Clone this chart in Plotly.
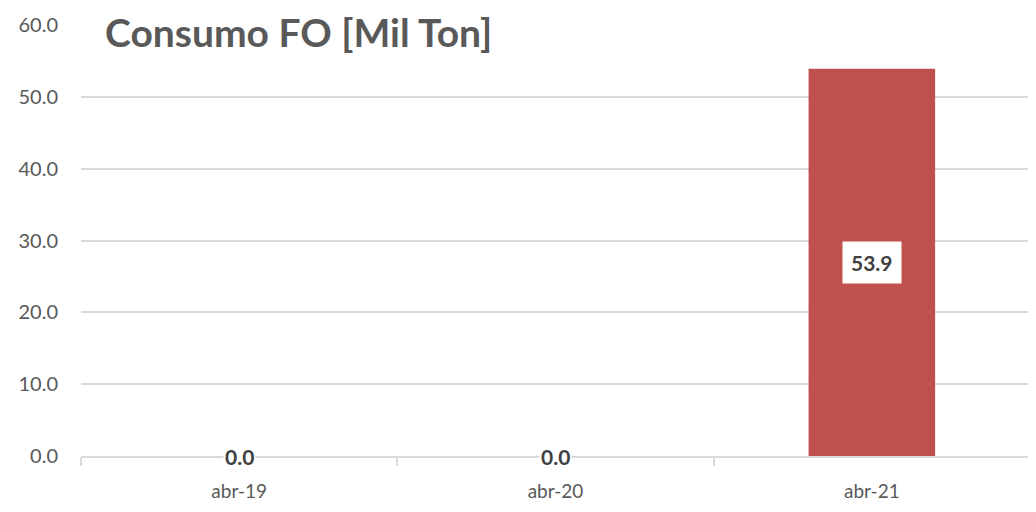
import plotly.graph_objects as go

categories = ["abr-19", "abr-20", "abr-21"]
values = [0.0, 0.0, 53.9]
y_ticks = [0, 10, 20, 30, 40, 50, 60]
title_text = "Consumo FO [Mil Ton]"

FONT = "Lato, Carlito, Calibri, sans-serif"
GRAY = "#595959"

fig = go.Figure()
fig.add_trace(go.Bar(
    x=categories, y=values,
    marker=dict(color="#C0504D", line=dict(width=0)),
    width=0.4,
    hoverinfo="skip",
))

for c, v in zip(categories, values):
    fig.add_annotation(
        x=c, y=v / 2, text=f"<b>{v:.1f}</b>", showarrow=False,
        font=dict(family=FONT, size=21, color="#404040"),
        bgcolor="white", borderpad=8 if v > 0 else 1,
        xref="x", yref="y",
    )

fig.add_annotation(
    x=0.024, y=1.039, xref="paper", yref="paper", xanchor="left", yanchor="top",
    text=f"<b>{title_text}</b>", showarrow=False,
    font=dict(family=FONT, size=39, color=GRAY),
    bgcolor="white", borderpad=0,
)

fig.update_layout(
    width=1036, height=512,
    margin=dict(l=73, r=14, t=17, b=64, autoexpand=False),
    plot_bgcolor="white", paper_bgcolor="white",
    showlegend=False,
    bargap=0.6,
    font=dict(family=FONT, color=GRAY),
)
fig.update_yaxes(
    range=[0, 60], tickvals=y_ticks,
    ticktext=[f"{t:.1f}" for t in y_ticks],
    showgrid=True, gridcolor="#D9D9D9", gridwidth=2,
    zeroline=False, showline=False, automargin=False,
    tickfont=dict(family=FONT, size=20, color=GRAY),
    ticklabelstandoff=22,
)
fig.update_xaxes(
    showline=True, linecolor="#D9D9D9", linewidth=2,
    ticks="outside", tickson="boundaries", ticklen=8, tickcolor="#D9D9D9", tickwidth=2,
    tickfont=dict(family=FONT, size=19, color=GRAY),
    showgrid=False, automargin=False,
    ticklabelstandoff=17,
)

fig.write_html("out.html")
